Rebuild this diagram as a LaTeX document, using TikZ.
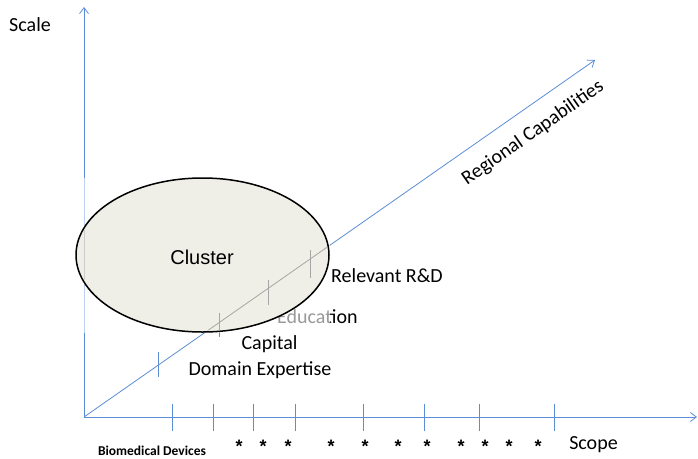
\documentclass[tikz,border=0pt]{standalone}
\usepackage{fontspec}
\setmainfont{Carlito}
\newfontfamily\arialf{Liberation Sans}
\usetikzlibrary{arrows.meta,shapes.geometric}
\definecolor{axisblue}{RGB}{91,141,213}
\definecolor{clusterfill}{RGB}{239,238,231}
\tikzset{
  axis/.style={draw=axisblue, line width=0.8pt},
  axisarrow/.style={axis, -{Straight Barb[length=6pt,width=9pt,line width=0.8pt]}},
  tickmark/.style={draw=axisblue, line width=0.8pt},
  lbl/.style={inner sep=0pt, font=\fontsize{20}{24}\selectfont},
  star/.style={inner sep=0pt, anchor=base, font=\arialf\bfseries\fontsize{18}{22}\selectfont},
  faded/.style={draw=black!35, line width=0.8pt}
}
\begin{document}
\begin{tikzpicture}[x=1pt,y=-1pt]
\useasboundingbox (0,0) rectangle (698,458);
% axes
\coordinate (O) at (84,417);
\coordinate (ytop) at (84,7);
\coordinate (xend) at (697,417);
\coordinate (dend) at (595,60);
\draw[axisarrow] (O) -- (ytop);
\draw[axisarrow] (O) -- (xend);
\draw[axisarrow] (O) -- (dend);
% x ticks
\foreach \x in {172,213,253,295,363,424,479,554}
  \draw[tickmark] (\x,404) -- (\x,431);
% diagonal ticks
\draw[tickmark] (158,352) -- (158,377);
\draw[tickmark] (219,313) -- (219,337);
\draw[tickmark] (268,280) -- (268,305);
\draw[tickmark] (310,250) -- (310,278);
% labels
\node[lbl] (scale) at (30,25) {Scale};
\node[lbl, anchor=base west] (rd) at (331,282) {Relevant R\&D};
\node[lbl, anchor=base west] (edu) at (277,323) {Education};
\node[lbl, anchor=base] (cap) at (269.5,349) {Capital};
\node[lbl, anchor=base] (dom) at (260,375) {Domain Expertise};
\node[lbl, anchor=base] (scope) at (593.5,449) {Scope};
\node[inner sep=0pt, font=\bfseries\fontsize{13.5}{16}\selectfont, anchor=base] (bio) at (152,455) {Biomedical Devices};
\node[lbl, rotate=34.9] (reg) at (533,133) {Regional Capabilities};
\foreach \x [count=\i] in {239,263,288,331,365,398,427,461,485,509,538}
  \node[star] (s\i) at (\x,452) {*};
% pasted-picture overlay
\fill[white, opacity=0.6] (80,178) rectangle (330,333);
% cluster ellipse
\node[ellipse, draw=black, line width=1.5pt, fill=clusterfill,
      minimum width=253pt, minimum height=154pt, inner sep=0pt] (cluster) at (202.5,255) {};
\node[inner sep=0pt, font=\arialf\fontsize{20}{24}\selectfont] (clabel) at (202,257) {Cluster};
\begin{scope}
  \clip (202.5,255) ellipse [x radius=125, y radius=75.5];
  \draw[faded] (O) -- (dend);
  \draw[draw=black!20, line width=0.8pt] (O) -- (ytop);
  \draw[faded] (219,313) -- (219,337);
  \draw[faded] (268,280) -- (268,305);
  \draw[faded] (310,250) -- (310,278);
\end{scope}
\end{tikzpicture}
\end{document}
